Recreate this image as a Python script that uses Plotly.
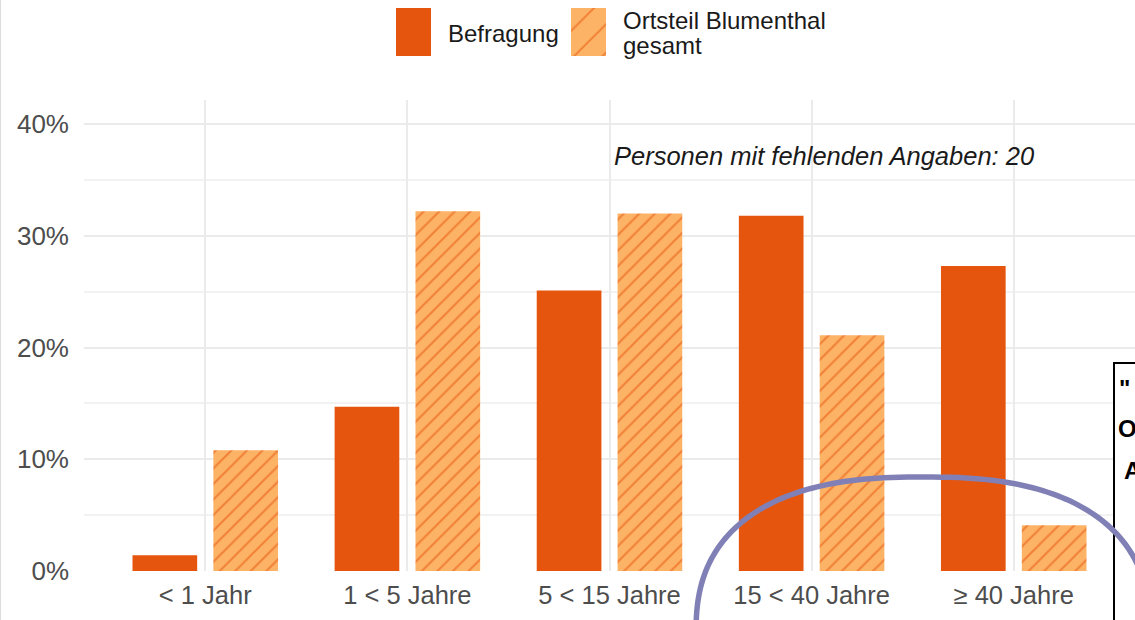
import numpy as np
import plotly.graph_objects as go

# ---- data ----
categories = ["< 1 Jahr", "1 < 5 Jahre", "5 < 15 Jahre", "15 < 40 Jahre", "≥ 40 Jahre"]
series_names = ["Befragung", "Ortsteil Blumenthal gesamt"]
befragung = [1.4, 14.7, 25.1, 31.8, 27.3]
blumenthal = [10.8, 32.2, 32.0, 21.1, 4.1]
y_tickvals = [0, 10, 20, 30, 40]
note_text = "Personen mit fehlenden Angaben: 20"

# ---- styles ----
C_SOLID = "#E6550D"
C_LIGHT = "#FDB366"
C_HATCH = "#E4500A"
FONT = "Liberation Sans, Arial, sans-serif"

W, H = 1135, 620
ML, MR, MT, MB = 84, 0, 8, 49
PW, PH = W - ML - MR, H - MT - MB


def px2paper(x, y):
    return (x - ML) / PW, (H - MB - y) / PH


fig = go.Figure()

fig.add_trace(go.Bar(
    x=categories, y=befragung, name=series_names[0],
    marker=dict(color=C_SOLID, line=dict(width=0)),
    showlegend=False, xaxis="x", yaxis="y",
))
fig.add_trace(go.Bar(
    x=categories, y=blumenthal, name=series_names[1],
    marker=dict(color=C_LIGHT, line=dict(width=0),
                pattern=dict(shape="/", fgcolor=C_HATCH, bgcolor=C_LIGHT,
                             size=11, solidity=0.2, fillmode="overlay")),
    showlegend=False, xaxis="x", yaxis="y",
))

# legend keys drawn as bars on a small helper axis
fig.add_trace(go.Bar(
    x=[series_names[0]], y=[1], width=0.2, offset=-0.1,
    marker=dict(color=C_SOLID, line=dict(width=0)),
    showlegend=False, hoverinfo="skip", xaxis="x2", yaxis="y2",
))
fig.add_trace(go.Bar(
    x=[series_names[1]], y=[1], width=0.2, offset=-0.1,
    marker=dict(color=C_LIGHT, line=dict(width=0),
                pattern=dict(shape="/", fgcolor=C_HATCH, bgcolor=C_LIGHT,
                             size=20, solidity=0.1, fillmode="overlay")),
    showlegend=False, hoverinfo="skip", xaxis="x2", yaxis="y2",
))

main_top = px2paper(0, 100)[1]
k0x, k0y = px2paper(396, 56)
k1x, k1y = px2paper(606, 8)

fig.update_layout(
    width=W, height=H,
    margin=dict(l=ML, r=MR, t=MT, b=MB, pad=0),
    paper_bgcolor="white", plot_bgcolor="white",
    barmode="group", bargap=0.2, bargroupgap=0.2,
    showlegend=False,
    font=dict(family=FONT, size=24, color="#4D4D4D"),
    xaxis=dict(
        domain=[0, 1], range=[-0.6, 4.6], type="category",
        showgrid=True, gridcolor="#EBEBEB", gridwidth=2,
        showline=False, zeroline=False, ticks="",
        tickfont=dict(family=FONT, size=25.5, color="#4D4D4D"),
        ticklabelstandoff=6,
    ),
    yaxis=dict(
        domain=[0, main_top], range=[0, 42.15],
        tickvals=y_tickvals, ticktext=[f"{v}%" for v in y_tickvals],
        showgrid=True, gridcolor="#EBEBEB", gridwidth=2,
        minor=dict(dtick=5, tick0=0, showgrid=True, gridcolor="#F2F2F2", gridwidth=1.5),
        showline=False, zeroline=False, ticks="",
        tickfont=dict(family=FONT, size=26, color="#4D4D4D"),
        ticklabelstandoff=14,
    ),
    xaxis2=dict(
        domain=[k0x, k1x], range=[-0.1, 1.1], type="category", anchor="y2",
        showgrid=False, zeroline=False, showline=False, showticklabels=False, ticks="",
    ),
    yaxis2=dict(
        domain=[k0y, k1y], range=[0, 1], anchor="x2",
        showgrid=False, zeroline=False, showline=False, showticklabels=False, ticks="",
    ),
)

annos = []
# legend labels
lx, ly = px2paper(446, 33)
annos.append(dict(text=series_names[0], x=lx, y=ly, xref="paper", yref="paper",
                  xanchor="left", yanchor="middle", showarrow=False,
                  font=dict(family=FONT, size=24, color="#1A1A1A")))
words = series_names[1].split(" ")
lx, ly = px2paper(621, 21)
annos.append(dict(text=" ".join(words[:2]), x=lx, y=ly, xref="paper", yref="paper",
                  xanchor="left", yanchor="middle", showarrow=False,
                  font=dict(family=FONT, size=24, color="#1A1A1A")))
lx, ly = px2paper(621, 46)
annos.append(dict(text=" ".join(words[2:]), x=lx, y=ly, xref="paper", yref="paper",
                  xanchor="left", yanchor="middle", showarrow=False,
                  font=dict(family=FONT, size=24, color="#1A1A1A")))
# note
nx, ny = px2paper(612, 156)
annos.append(dict(text=f"<i>{note_text}</i>", x=nx, y=ny, xref="paper", yref="paper",
                  xanchor="left", yanchor="middle", showarrow=False,
                  font=dict(family=FONT, size=25.5, color="#1A1A1A")))
# cut-off box text on the right
for txt, (bx, by) in [('"', (1117, 388)), ("O", (1116, 428)), ("A", (1122, 470))]:
    ax_, ay_ = px2paper(bx, by)
    annos.append(dict(text=f"<b>{txt}</b>", x=ax_, y=ay_, xref="paper", yref="paper",
                      xanchor="left", yanchor="middle", showarrow=False,
                      font=dict(family=FONT, size=24, color="black")))
fig.update_layout(annotations=annos)

shapes = []
# faint left border of the screenshot
bx0, _ = px2paper(0.5, 0)
_, by0 = px2paper(0, 0)
_, by1 = px2paper(0, H)
shapes.append(dict(type="line", xref="paper", yref="paper", x0=bx0, x1=bx0, y0=by0, y1=by1,
                   line=dict(color="#DDDDDD", width=1), layer="above"))
# box on the right
rx0, ry1 = px2paper(1114, 363)
rx1, ry0 = px2paper(1145, 630)
shapes.append(dict(type="rect", xref="paper", yref="paper", x0=rx0, x1=rx1, y0=ry0, y1=ry1,
                   line=dict(color="black", width=2), fillcolor="white", layer="above"))
# hand-drawn highlight ellipse (superellipse)
t = np.linspace(0, 2 * np.pi, 240)
cx, cy, a, b, n = 923, 635, 227, 158, 2.5
ex = cx + a * np.sign(np.cos(t)) * np.abs(np.cos(t)) ** (2 / n)
ey = cy + b * np.sign(np.sin(t)) * np.abs(np.sin(t)) ** (2 / n)
pts = [px2paper(xx, yy) for xx, yy in zip(ex, ey)]
path = "M " + " L ".join(f"{p[0]:.5f},{p[1]:.5f}" for p in pts) + " Z"
shapes.append(dict(type="path", xref="paper", yref="paper", path=path,
                   line=dict(color="#8080B6", width=5.5), layer="above"))
fig.update_layout(shapes=shapes)

fig.write_html("out.html", config={"displayModeBar": False})

# remove the browser's default page margin so the figure sits at (0, 0)
with open("out.html", "r", encoding="utf-8") as f:
    html = f.read()
html = html.replace("<body>", '<body style="margin:0;padding:0;overflow:hidden">', 1)
with open("out.html", "w", encoding="utf-8") as f:
    f.write(html)
